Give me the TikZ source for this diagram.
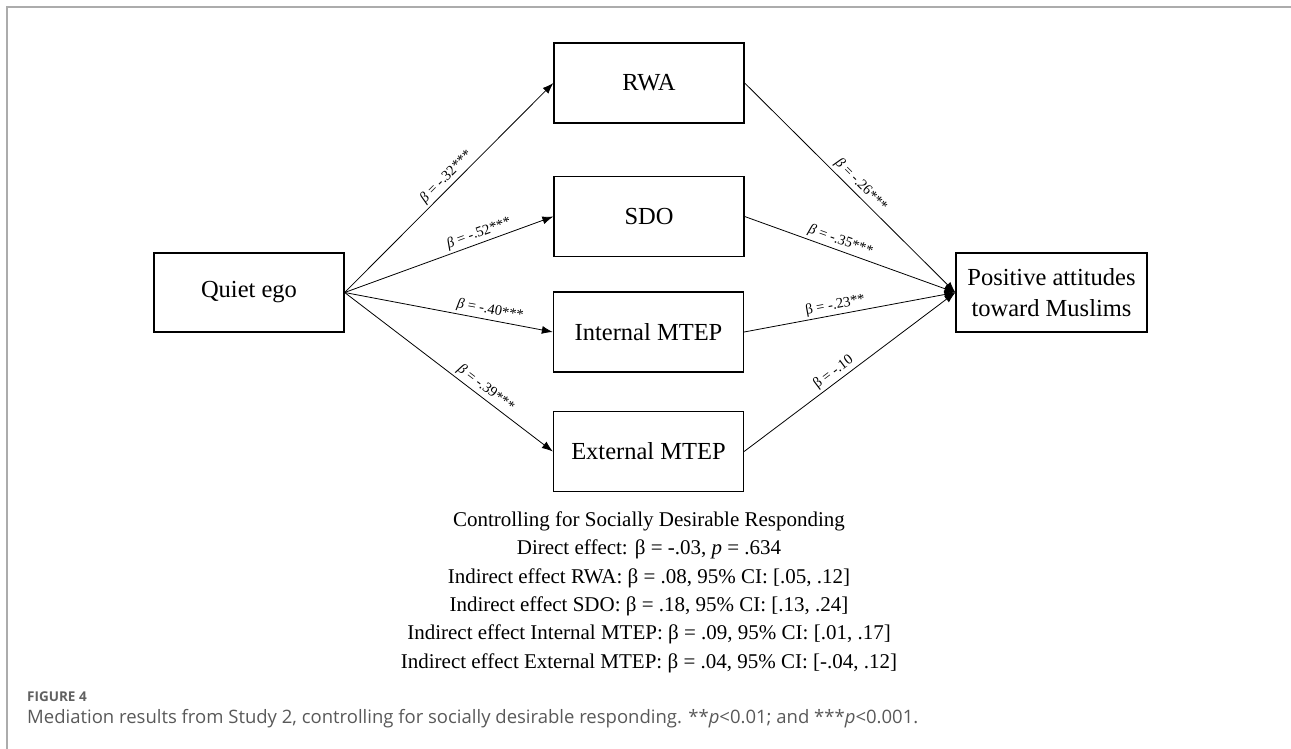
\documentclass[tikz,border=0pt]{standalone}
\usepackage{fontspec}
\setmainfont{Liberation Serif}
\newfontfamily\capfont{Open Sans}
\usetikzlibrary{arrows.meta}
\begin{document}
\begin{tikzpicture}[x=1pt,y=-1pt,
  varbox/.style={draw, line width=1.3pt, minimum width=190pt, minimum height=80pt, inner sep=0pt, align=center, font=\fontsize{24.5}{31}\selectfont},
  arr/.style={-{Latex[length=11pt,width=8pt]}, line width=0.8pt},
  lab/.style={sloped, above, inner sep=2.5pt, font=\fontsize{14.5}{16}\selectfont}]
\useasboundingbox (0,0) rectangle (1291,749);
\draw[gray!65, line width=1.5pt] (7,749) -- (7,7) -- (1291,7);
\node[varbox, minimum height=79pt] (qe) at (249,292.5) {Quiet ego};
\node[varbox] (rwa) at (649,83) {RWA};
\node[varbox] (sdo) at (649,216.5) {SDO};
\node[varbox] (imt) at (648.5,332) {Internal MTEP};
\node[varbox] (emt) at (648.5,451.5) {External MTEP};
\node[varbox, minimum width=191pt, minimum height=79pt] (pos) at (1051.5,292.5) {Positive attitudes\\toward Muslims};
\draw[arr] (qe.east) -- node[lab, pos=0.52] {\textit{β} = -.32***} (rwa.west);
\draw[arr] (qe.east) -- node[lab, pos=0.66] {\textit{β} = -.52***} (sdo.west);
\draw[arr] (qe.east) -- node[lab, pos=0.69] {\textit{β} = -.40***} (imt.west);
\draw[arr] (qe.east) -- node[lab, pos=0.65] {\textit{β} = -.39***} (emt.west);
\draw[arr] (rwa.east) -- node[lab, pos=0.52] {\textit{β} = -.26***} (pos.west);
\draw[arr] (sdo.east) -- node[lab, pos=0.44] {\textit{β} = -.35***} (pos.west);
\draw[arr] (imt.east) -- node[lab, pos=0.44] {β = -.23**} (pos.west);
\draw[arr] (emt.east) -- node[lab, pos=0.45] {β = -.10} (pos.west);
\node[anchor=base, align=center, inner sep=0pt, font=\fontsize{21}{28.3}\selectfont] (res) at (649,668)
  {Controlling for Socially Desirable Responding\\
   Direct effect: β = -.03, \textit{p} = .634\\
   Indirect effect RWA: β = .08, 95\% CI: [.05, .12]\\
   Indirect effect SDO: β = .18, 95\% CI: [.13, .24]\\
   Indirect effect Internal MTEP: β = .09, 95\% CI: [.01, .17]\\
   Indirect effect External MTEP: β = .04, 95\% CI: [-.04, .12]};
\node[anchor=base west, inner sep=0pt, text=black!62, font=\capfont\fontsize{13.5}{15}\selectfont\bfseries] (fig) at (27,701) {FIGURE 4};
\node[anchor=base west, inner sep=0pt, text=black!65, font=\capfont\fontsize{18.5}{21}\selectfont] (cap) at (27,723) {Mediation results from Study 2, controlling for socially desirable responding. **\textit{p}<0.01; and ***\textit{p}<0.001.};
\end{tikzpicture}
\end{document}
